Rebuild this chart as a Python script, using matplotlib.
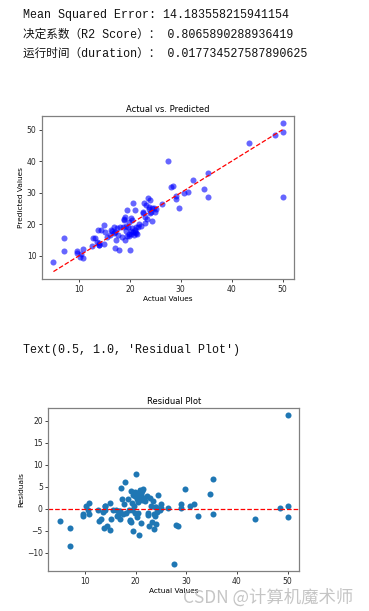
import matplotlib
matplotlib.use("Agg")
import matplotlib.pyplot as plt
import numpy as np

# ---- data ----
actual = [5.0, 7.0, 7.0, 9.7, 9.7, 10.2, 10.5, 10.8, 10.8, 12.6,
          12.8, 13.1, 13.5, 13.7, 13.9, 14.0, 14.3, 14.9, 14.9, 15.2,
          16.1, 16.4, 16.8, 16.9, 17.1, 17.3, 17.0, 17.8, 17.7, 18.1,
          18.4, 18.6, 18.9, 19.0, 19.2, 19.1, 19.4, 19.5, 19.6, 19.8,
          20.0, 19.9, 20.2, 20.2, 20.3, 20.5, 20.7, 20.8, 21.0, 21.1,
          21.2, 21.3, 21.5, 21.7, 22.2, 22.5, 22.7, 22.9, 23.0, 23.2,
          23.4, 23.6, 23.7, 23.8, 24.0, 24.1, 24.4, 24.8, 25.0, 25.1,
          26.4, 27.5, 28.0, 28.4, 29.0, 29.0, 29.7, 30.7, 31.5, 32.4,
          34.6, 35.3, 35.3, 43.5, 48.5, 50.0, 50.0, 50.0,
          19.8, 20.6, 21.0, 21.8, 18.9, 16.5, 22.5, 15.6, 13.9, 20.4,
          19.3, 17.5, 24.3, 23.9]
residuals = [-2.9, -4.4, -8.5, -1.1, -1.7, 0.5, -0.2, 1.4, -1.3, -0.4,
             -2.8, -2.4, -0.8, -4.5, -0.2, 0.6, -3.9, 1.2, -4.8, -2.3,
             -0.4, -1.7, -0.5, -2.4, 4.6, 2.2, -0.5, 6.1, 1.0, -0.9,
             2.3, -0.4, -2.8, 4.1, 1.2, -3.1, -5.0, 3.1, 0.6, -0.9,
             8.0, 3.7, 2.3, -1.8, 3.5, 1.6, -6.1, 4.2, 2.7, -3.3,
             2.0, 4.0, 4.5, 2.5, 2.8, -1.4, -3.9, 2.5, 0.6, -3.0,
             1.7, -4.6, -1.1, -1.6, -3.6, 0.3, 3.2, -0.3, 1.0, 0.2,
             0.1, -12.5, -3.7, -3.9, 0.1, 1.1, 4.5, 0.7, 1.1, -1.7,
             3.3, 6.7, -1.1, -2.3, 0.1, 21.3, 0.6, -2.0,
             2.8, 3.0, 3.4, 1.8, -2.6, -1.4, -1.0, -0.3, 0.5, -1.0,
             -0.2, -1.2, -0.8, 0.4]
predicted = [a - r for a, r in zip(actual, residuals)]

output_lines = [
    "Mean Squared Error: 14.183558215941154",
    "决定系数（R2 Score）： 0.8065890288936419",
    "运行时间（duration）： 0.017734527587890625",
]
text_repr = "Text(0.5, 1.0, 'Residual Plot')"
watermark = "CSDN @计算机魔术师"

W, H = 369, 611
fig = plt.figure(figsize=(W / 100, H / 100), dpi=100)
fig.patch.set_facecolor("white")

mono = ["Liberation Mono", "Noto Sans CJK SC", "DejaVu Sans"]
for y, line in zip([15, 34.5, 53.5], output_lines):
    fig.text(23 / W, 1 - y / H, line, family=mono, fontsize=8.4,
             va="center", ha="left", color="#111111")
fig.text(23 / W, 1 - 350 / H, text_repr, family=mono, fontsize=8.4,
         va="center", ha="left", color="#111111")


def style(ax):
    for s in ax.spines.values():
        s.set_color("0.5")
        s.set_linewidth(0.9)
    ax.tick_params(labelsize=5.5, length=2.5, width=0.6, pad=1.5,
                   colors="0.15")


# ---- plot 1 ----
ax1 = fig.add_axes([42 / W, 1 - 279 / H, 252 / W, 163 / H])
ax1.scatter(actual, predicted, color="blue", alpha=0.6, s=19, linewidths=0)
lo, hi = min(actual), max(actual)
ax1.plot([lo, hi], [lo, hi], "r--", lw=0.9)
ax1.set_title("Actual vs. Predicted", fontsize=6, pad=3)
ax1.set_xlabel("Actual Values", fontsize=5.3, labelpad=1.5)
ax1.set_ylabel("Predicted Values", fontsize=5.3, labelpad=2)
ax1.set_xticks([10, 20, 30, 40, 50])
ax1.set_yticks([10, 20, 30, 40, 50])
style(ax1)

# ---- plot 2 ----
ax2 = fig.add_axes([48.3 / W, 1 - 571 / H, 250.7 / W, 163.3 / H])
ax2.scatter(actual, residuals, s=19, linewidths=0)
ax2.axhline(y=0, color="red", linestyle="--", lw=0.9)
ax2.set_title("Residual Plot", fontsize=6, pad=3)
ax2.set_xlabel("Actual Values", fontsize=5.3, labelpad=1.5)
ax2.set_ylabel("Residuals", fontsize=5.3, labelpad=2)
ax2.set_xticks([10, 20, 30, 40, 50])
ax2.set_yticks([-10, -5, 0, 5, 10, 15, 20])
style(ax2)

fig.text(353 / W, 1 - 597.5 / H, watermark,
         family=["Noto Sans CJK SC", "DejaVu Sans"], fontsize=12.5,
         color="#bbbbbb", alpha=0.85, ha="right", va="center")

fig.savefig("out.png", dpi=100, facecolor="white")
